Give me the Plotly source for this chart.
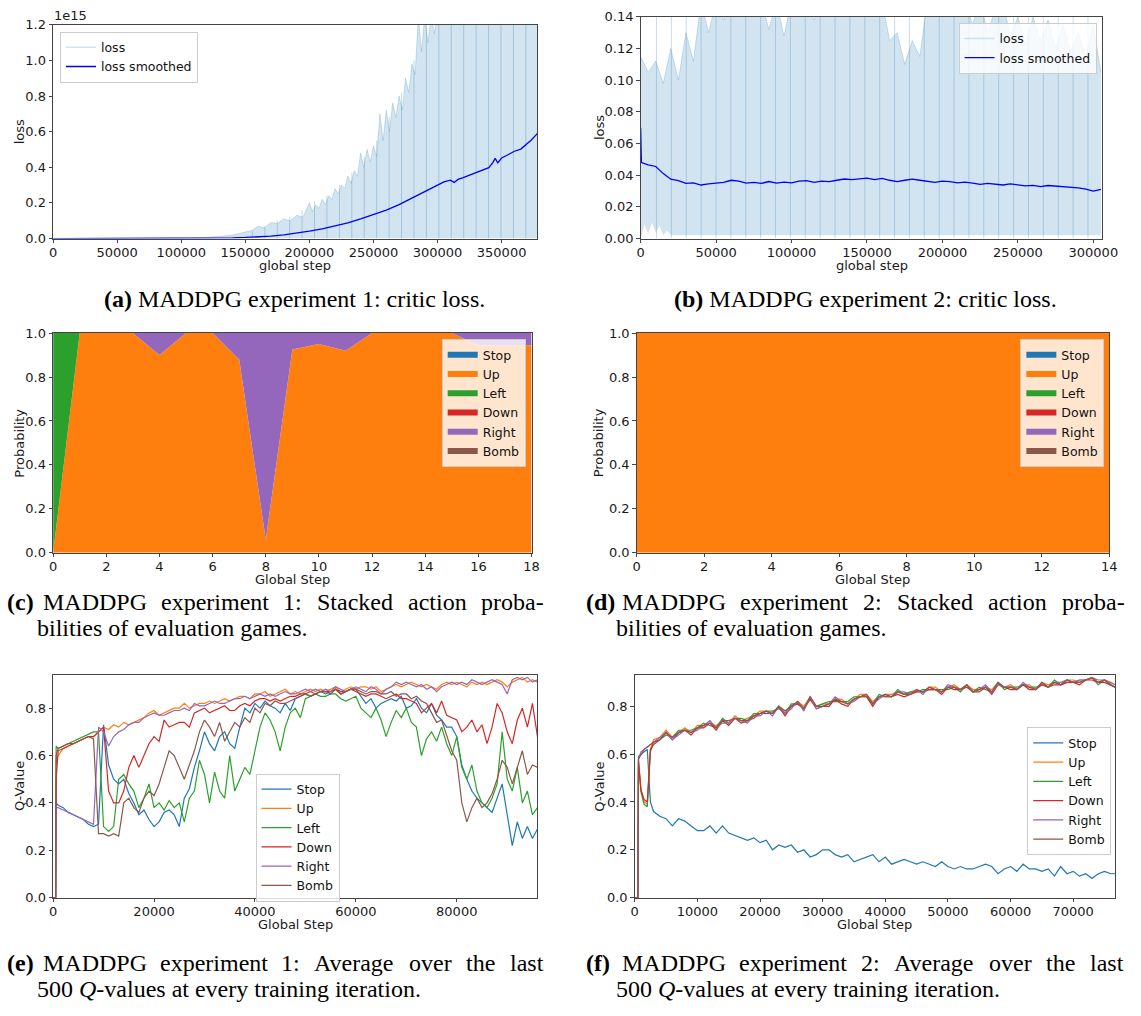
import plotly.graph_objects as go

W, H = 1141, 1016

# ------------------------------------------------------------------ data
# (a) critic loss, experiment 1 (values in units of 1e15)
a_env_steps = [0, 100000, 110000, 120000, 125000, 130000, 135000, 140000, 145000, 150000,
               155000, 160000, 165000, 170000, 175000, 180000, 185000, 190000, 195000, 200000,
               202500, 205000, 207500, 210000, 212500, 215000, 217500, 220000, 222500, 225000,
               227500, 230000, 232500, 235000, 237500, 240000, 242500, 245000, 247500, 250000,
               252500, 255000, 257500, 260000, 262500, 265000, 267500, 270000, 272500, 275000,
               277500, 280000, 282500, 285000, 287500, 290000, 292500, 295000, 297500, 300000,
               378000]
a_env_loss = [0.0, 0.001, 0.003, 0.006, 0.008, 0.012, 0.015, 0.020, 0.028, 0.035,
              0.045, 0.070, 0.060, 0.090, 0.085, 0.110, 0.100, 0.130, 0.120, 0.200,
              0.150, 0.190, 0.170, 0.220, 0.190, 0.240, 0.220, 0.280, 0.250, 0.300,
              0.280, 0.350, 0.310, 0.380, 0.350, 0.480, 0.400, 0.500, 0.430, 0.520,
              0.460, 0.700, 0.550, 0.720, 0.600, 0.760, 0.680, 0.800, 0.720, 0.900,
              0.820, 0.980, 0.920, 1.250, 1.050, 1.250, 1.100, 1.250, 1.150, 1.300,
              1.300]
a_stripe_steps = [155500, 165200, 174900, 184600, 194300, 204000, 213700, 223400, 233100, 242800,
                  252500, 262200, 271900, 281600, 291300, 301000, 310700, 320400, 330100, 339800,
                  349500, 359200, 368900, 378600]
a_stripe_tops = [0.04, 0.07, 0.10, 0.12, 0.16, 0.21, 0.24, 0.30, 0.37, 0.46,
                 0.55, 0.68, 0.82, 1.00, 1.30, 1.30, 1.30, 1.30, 1.30, 1.30,
                 1.30, 1.30, 1.30, 1.30]
a_smooth_steps = [0, 50000, 100000, 120000, 140000, 150000, 160000, 170000, 180000, 190000,
                  200000, 210000, 220000, 230000, 240000, 250000, 260000, 270000, 280000, 290000,
                  300000, 305000, 310000, 313000, 316000, 320000, 325000, 330000, 335000, 340000,
                  343000, 345000, 347000, 350000, 355000, 360000, 365000, 370000, 373000, 376000,
                  378000]
a_smooth_loss = [0.0, 0.0, 0.0005, 0.0015, 0.004, 0.006, 0.009, 0.014, 0.021, 0.030,
                 0.041, 0.054, 0.070, 0.088, 0.110, 0.135, 0.160, 0.190, 0.228, 0.265,
                 0.300, 0.318, 0.328, 0.315, 0.332, 0.342, 0.356, 0.370, 0.388, 0.398,
                 0.425, 0.450, 0.425, 0.452, 0.470, 0.490, 0.502, 0.532, 0.552, 0.575,
                 0.590]

# (b) critic loss, experiment 2
b_env_steps = list(range(0, 305001, 5000))
b_env_upper = [0.115, 0.105, 0.112, 0.098, 0.120, 0.100, 0.130, 0.112, 0.150, 0.130,
               0.150, 0.138, 0.150, 0.145, 0.150, 0.140, 0.150, 0.132, 0.150, 0.128,
               0.150, 0.145, 0.150, 0.138, 0.150, 0.150, 0.150, 0.140, 0.150, 0.150,
               0.150, 0.145, 0.150, 0.125, 0.130, 0.110, 0.125, 0.115, 0.150, 0.140,
               0.150, 0.150, 0.140, 0.150, 0.135, 0.150, 0.130, 0.145, 0.150, 0.128,
               0.140, 0.122, 0.140, 0.125, 0.138, 0.120, 0.135, 0.118, 0.130, 0.115,
               0.135, 0.105]
b_low_steps = [0, 2500, 5000, 7500, 10000, 12500, 15000, 17500, 20000, 25000, 305000]
b_low_vals = [0.0, 0.009, 0.003, 0.010, 0.004, 0.008, 0.002, 0.005, 0.002, 0.002, 0.002]
b_stripe_steps = [10500, 20360, 30220, 40080, 49940, 59800, 69660, 79520, 89380, 99240,
                  109100, 118960, 128820, 138680, 148540, 158400, 168260, 178120, 187980, 197840,
                  207700, 217560, 227420, 237280, 247140, 257000, 266860, 276720, 286580, 296440]
b_smooth_steps = [0, 500] + list(range(5000, 305001, 5000))
b_smooth_loss = [0.0700, 0.0480,
                 0.0465, 0.0455, 0.0410, 0.0375, 0.0365, 0.0348, 0.0352, 0.0338, 0.0345, 0.0352,
                 0.0355, 0.0368, 0.0362, 0.0350, 0.0355, 0.0348, 0.0360, 0.0350, 0.0356, 0.0352,
                 0.0362, 0.0366, 0.0355, 0.0362, 0.0360, 0.0368, 0.0376, 0.0372, 0.0375, 0.0382,
                 0.0372, 0.0380, 0.0368, 0.0360, 0.0368, 0.0375, 0.0368, 0.0362, 0.0355, 0.0362,
                 0.0360, 0.0352, 0.0356, 0.0350, 0.0342, 0.0348, 0.0343, 0.0338, 0.0345, 0.0338,
                 0.0333, 0.0336, 0.0328, 0.0335, 0.0332, 0.0326, 0.0323, 0.0320, 0.0312, 0.0300,
                 0.0310]

# (c) / (d) stacked action probabilities
actions = ["Stop", "Up", "Left", "Down", "Right", "Bomb"]
c_steps = [0, 1, 2, 3, 4, 5, 6, 7, 8, 9, 10, 11, 12, 13, 14, 15, 16, 17, 18]
c_probs = {
    "Stop":  [0, 0, 0, 0, 0, 0, 0, 0, 0, 0, 0, 0, 0, 0, 0, 0, 0, 0, 0],
    "Up":    [0.0, 1.0, 1.0, 1.0, 0.90, 1.0, 1.0, 0.88, 0.06, 0.925, 0.95, 0.92, 1.0, 1.0, 1.0, 1.0, 0.945, 0.945, 0.945],
    "Left":  [1.0, 0, 0, 0, 0, 0, 0, 0, 0, 0, 0, 0, 0, 0, 0, 0, 0, 0, 0],
    "Down":  [0, 0, 0, 0, 0, 0, 0, 0, 0, 0, 0, 0, 0, 0, 0, 0, 0, 0, 0],
    "Right": [0.0, 0.0, 0.0, 0.0, 0.10, 0.0, 0.0, 0.12, 0.94, 0.075, 0.05, 0.08, 0.0, 0.0, 0.0, 0.0, 0.055, 0.055, 0.055],
    "Bomb":  [0, 0, 0, 0, 0, 0, 0, 0, 0, 0, 0, 0, 0, 0, 0, 0, 0, 0, 0],
}
d_steps = [0, 1, 2, 3, 4, 5, 6, 7, 8, 9, 10, 11, 12, 13, 14]
d_probs = {
    "Stop":  [0, 0, 0, 0, 0, 0, 0, 0, 0, 0, 0, 0, 0, 0, 0],
    "Up":    [1.0, 1.0, 1.0, 1.0, 1.0, 1.0, 1.0, 1.0, 1.0, 1.0, 1.0, 1.0, 1.0, 1.0, 1.0],
    "Left":  [0, 0, 0, 0, 0, 0, 0, 0, 0, 0, 0, 0, 0, 0, 0],
    "Down":  [0, 0, 0, 0, 0, 0, 0, 0, 0, 0, 0, 0, 0, 0, 0],
    "Right": [0, 0, 0, 0, 0, 0, 0, 0, 0, 0, 0, 0, 0, 0, 0],
    "Bomb":  [0, 0, 0, 0, 0, 0, 0, 0, 0, 0, 0, 0, 0, 0, 0],
}

# (e) Q-values, experiment 1 (steps 0, 500, 600, 1000 ... 96000)
e_steps = [0, 500, 600] + list(range(1000, 96001, 1000))
e_q = {
    "Stop": [0.0, 0.0, 0.40,
             0.39, 0.38, 0.36, 0.35, 0.34, 0.33, 0.31, 0.30, 0.31, 0.73,
             0.56, 0.50, 0.48, 0.50, 0.44, 0.40, 0.35, 0.37, 0.33, 0.30,
             0.32, 0.36, 0.37, 0.35, 0.30, 0.42, 0.46, 0.55, 0.62, 0.70,
             0.65, 0.62, 0.68, 0.70, 0.65, 0.63, 0.72, 0.80, 0.78, 0.82,
             0.80, 0.83, 0.81, 0.80, 0.78, 0.82, 0.79, 0.84, 0.85, 0.86,
             0.85, 0.86, 0.87, 0.86, 0.87, 0.88, 0.86, 0.87, 0.88, 0.88,
             0.85, 0.82, 0.84, 0.80, 0.82, 0.83, 0.84, 0.83, 0.85, 0.80,
             0.81, 0.84, 0.80, 0.78, 0.82, 0.77, 0.75, 0.72, 0.72, 0.68,
             0.56, 0.50, 0.45, 0.42, 0.40, 0.38, 0.36, 0.42, 0.48, 0.35,
             0.22, 0.32, 0.25, 0.30, 0.25, 0.29],
    "Up": [0.0, 0.0, 0.58,
           0.60, 0.63, 0.64, 0.65, 0.66, 0.67, 0.68, 0.68, 0.70, 0.72,
           0.71, 0.73, 0.72, 0.74, 0.73, 0.74, 0.75, 0.76, 0.78, 0.79,
           0.77, 0.78, 0.79, 0.80, 0.80, 0.82, 0.80, 0.81, 0.82, 0.82,
           0.83, 0.82, 0.83, 0.84, 0.83, 0.84, 0.85, 0.85, 0.84, 0.86,
           0.86, 0.87, 0.85, 0.86, 0.87, 0.88, 0.86, 0.87, 0.86, 0.87,
           0.88, 0.87, 0.88, 0.87, 0.88, 0.89, 0.87, 0.88, 0.89, 0.88,
           0.89, 0.89, 0.88, 0.89, 0.87, 0.88, 0.89, 0.90, 0.89, 0.90,
           0.91, 0.90, 0.89, 0.90, 0.89, 0.88, 0.90, 0.91, 0.90, 0.91,
           0.90, 0.89, 0.91, 0.90, 0.91, 0.90, 0.91, 0.92, 0.91, 0.89,
           0.91, 0.92, 0.93, 0.91, 0.92, 0.91],
    "Left": [0.0, 0.0, 0.64,
             0.63, 0.64, 0.65, 0.66, 0.67, 0.68, 0.69, 0.70, 0.70, 0.30,
             0.28, 0.30, 0.50, 0.52, 0.48, 0.45, 0.38, 0.42, 0.48, 0.38,
             0.40, 0.37, 0.41, 0.38, 0.40, 0.32, 0.42, 0.45, 0.58, 0.52,
             0.40, 0.53, 0.45, 0.42, 0.60, 0.45, 0.50, 0.55, 0.52, 0.62,
             0.72, 0.78, 0.75, 0.70, 0.62, 0.72, 0.78, 0.80, 0.76, 0.84,
             0.85, 0.86, 0.85, 0.85, 0.86, 0.86, 0.84, 0.83, 0.84, 0.85,
             0.80, 0.78, 0.76, 0.80, 0.75, 0.68, 0.74, 0.79, 0.76, 0.80,
             0.74, 0.72, 0.60, 0.67, 0.70, 0.66, 0.72, 0.65, 0.60, 0.68,
             0.55, 0.50, 0.56, 0.45, 0.40, 0.38, 0.42, 0.48, 0.70, 0.50,
             0.45, 0.55, 0.40, 0.45, 0.35, 0.38],
    "Down": [0.0, 0.0, 0.50,
             0.62, 0.63, 0.64, 0.65, 0.66, 0.67, 0.68, 0.68, 0.70, 0.72,
             0.45, 0.40, 0.40, 0.45, 0.55, 0.60, 0.55, 0.60, 0.65, 0.68,
             0.66, 0.75, 0.72, 0.73, 0.74, 0.74, 0.72, 0.78, 0.79, 0.80,
             0.78, 0.79, 0.80, 0.81, 0.79, 0.79, 0.81, 0.82, 0.81, 0.83,
             0.84, 0.84, 0.83, 0.84, 0.83, 0.84, 0.85, 0.85, 0.86, 0.86,
             0.87, 0.86, 0.87, 0.87, 0.87, 0.88, 0.86, 0.87, 0.88, 0.87,
             0.86, 0.85, 0.86, 0.86, 0.85, 0.84, 0.85, 0.86, 0.84, 0.84,
             0.83, 0.82, 0.78, 0.80, 0.82, 0.78, 0.83, 0.77, 0.76, 0.75,
             0.70, 0.72, 0.75, 0.70, 0.73, 0.65, 0.72, 0.82, 0.78, 0.70,
             0.65, 0.75, 0.80, 0.72, 0.82, 0.68],
    "Right": [0.0, 0.0, 0.38,
              0.38, 0.37, 0.36, 0.35, 0.34, 0.33, 0.32, 0.31, 0.72, 0.70,
              0.64, 0.68, 0.70, 0.71, 0.73, 0.74, 0.74, 0.76, 0.77, 0.78,
              0.77, 0.77, 0.78, 0.79, 0.79, 0.80, 0.79, 0.82, 0.81, 0.81,
              0.82, 0.83, 0.82, 0.82, 0.83, 0.84, 0.84, 0.85, 0.84, 0.85,
              0.86, 0.85, 0.86, 0.85, 0.86, 0.87, 0.86, 0.86, 0.87, 0.88,
              0.87, 0.88, 0.87, 0.88, 0.87, 0.89, 0.88, 0.87, 0.88, 0.89,
              0.88, 0.87, 0.89, 0.88, 0.86, 0.88, 0.89, 0.91, 0.90, 0.91,
              0.90, 0.89, 0.90, 0.88, 0.89, 0.87, 0.89, 0.90, 0.91, 0.90,
              0.91, 0.90, 0.92, 0.91, 0.90, 0.91, 0.92, 0.91, 0.90, 0.86,
              0.92, 0.93, 0.92, 0.93, 0.91, 0.92],
    "Bomb": [0.0, 0.0, 0.60,
             0.63, 0.64, 0.65, 0.65, 0.66, 0.67, 0.68, 0.67, 0.27, 0.27,
             0.26, 0.27, 0.26, 0.40, 0.42, 0.38, 0.36, 0.42, 0.45, 0.43,
             0.48, 0.55, 0.62, 0.60, 0.55, 0.50, 0.56, 0.62, 0.70, 0.75,
             0.72, 0.68, 0.74, 0.66, 0.70, 0.74, 0.72, 0.76, 0.74, 0.80,
             0.78, 0.82, 0.81, 0.83, 0.82, 0.82, 0.83, 0.84, 0.85, 0.86,
             0.85, 0.86, 0.87, 0.87, 0.86, 0.88, 0.87, 0.87, 0.88, 0.88,
             0.87, 0.86, 0.87, 0.87, 0.86, 0.86, 0.87, 0.85, 0.86, 0.86,
             0.84, 0.85, 0.83, 0.82, 0.78, 0.74, 0.75, 0.68, 0.62, 0.58,
             0.40, 0.32, 0.38, 0.42, 0.38, 0.40, 0.44, 0.50, 0.58, 0.55,
             0.48, 0.55, 0.62, 0.52, 0.56, 0.55],
}

# (f) Q-values, experiment 2
f_steps = [0, 500, 600, 1000, 1500, 2000, 2500] + list(range(3000, 76001, 1000)) + [76700]
f_q = {
    "Stop": [0.0, 0.0, 0.59, 0.60, 0.61, 0.62, 0.40,
             0.36, 0.34, 0.33, 0.30, 0.33, 0.32, 0.30, 0.28, 0.28, 0.30,
             0.27, 0.30, 0.27, 0.26, 0.25, 0.24, 0.25, 0.23, 0.24, 0.20,
             0.22, 0.21, 0.22, 0.19, 0.20, 0.17, 0.18, 0.20, 0.20, 0.18,
             0.17, 0.18, 0.15, 0.16, 0.17, 0.18, 0.15, 0.17, 0.14, 0.15,
             0.16, 0.15, 0.14, 0.15, 0.14, 0.13, 0.15, 0.13, 0.12, 0.13,
             0.12, 0.12, 0.13, 0.14, 0.13, 0.10, 0.12, 0.13, 0.11, 0.14,
             0.12, 0.12, 0.11, 0.12, 0.09, 0.13, 0.10, 0.11, 0.09, 0.10,
             0.08, 0.10, 0.11, 0.10, 0.10],
    "Up": [0.0, 0.0, 0.57, 0.45, 0.40, 0.39, 0.62,
           0.66, 0.67, 0.70, 0.67, 0.69, 0.71, 0.69, 0.72, 0.72, 0.73,
           0.72, 0.74, 0.73, 0.76, 0.74, 0.75, 0.76, 0.78, 0.78, 0.77,
           0.80, 0.78, 0.80, 0.82, 0.80, 0.84, 0.80, 0.81, 0.81, 0.83,
           0.83, 0.81, 0.83, 0.85, 0.85, 0.82, 0.84, 0.85, 0.85, 0.86,
           0.85, 0.86, 0.87, 0.86, 0.88, 0.88, 0.86, 0.88, 0.89, 0.87,
           0.89, 0.87, 0.87, 0.88, 0.87, 0.90, 0.88, 0.89, 0.87, 0.89,
           0.89, 0.87, 0.90, 0.89, 0.90, 0.89, 0.91, 0.91, 0.90, 0.91,
           0.92, 0.90, 0.91, 0.90, 0.89],
    "Left": [0.0, 0.0, 0.56, 0.44, 0.39, 0.38, 0.61,
             0.65, 0.66, 0.68, 0.67, 0.70, 0.70, 0.70, 0.71, 0.73, 0.72,
             0.71, 0.75, 0.73, 0.75, 0.75, 0.74, 0.77, 0.77, 0.78, 0.78,
             0.79, 0.77, 0.81, 0.81, 0.79, 0.83, 0.80, 0.81, 0.82, 0.82,
             0.82, 0.82, 0.84, 0.84, 0.84, 0.81, 0.85, 0.84, 0.84, 0.87,
             0.85, 0.86, 0.86, 0.87, 0.87, 0.87, 0.87, 0.87, 0.88, 0.86,
             0.89, 0.86, 0.88, 0.87, 0.86, 0.90, 0.87, 0.88, 0.88, 0.89,
             0.88, 0.88, 0.89, 0.88, 0.91, 0.89, 0.90, 0.90, 0.91, 0.91,
             0.92, 0.89, 0.91, 0.89, 0.88],
    "Down": [0.0, 0.0, 0.57, 0.45, 0.41, 0.40, 0.62,
             0.64, 0.66, 0.69, 0.66, 0.69, 0.70, 0.68, 0.71, 0.71, 0.73,
             0.70, 0.74, 0.72, 0.75, 0.73, 0.74, 0.75, 0.77, 0.77, 0.77,
             0.80, 0.76, 0.80, 0.81, 0.79, 0.83, 0.79, 0.80, 0.80, 0.83,
             0.81, 0.80, 0.83, 0.84, 0.84, 0.80, 0.84, 0.84, 0.84, 0.85,
             0.84, 0.85, 0.86, 0.86, 0.87, 0.87, 0.85, 0.88, 0.87, 0.87,
             0.88, 0.86, 0.86, 0.88, 0.85, 0.89, 0.88, 0.87, 0.87, 0.89,
             0.87, 0.87, 0.89, 0.88, 0.89, 0.89, 0.90, 0.90, 0.89, 0.91,
             0.91, 0.90, 0.90, 0.89, 0.88],
    "Right": [0.0, 0.0, 0.58, 0.61, 0.62, 0.63, 0.64,
              0.65, 0.67, 0.69, 0.66, 0.68, 0.70, 0.69, 0.70, 0.72, 0.74,
              0.71, 0.73, 0.73, 0.75, 0.74, 0.73, 0.76, 0.76, 0.78, 0.76,
              0.80, 0.77, 0.79, 0.82, 0.78, 0.84, 0.79, 0.80, 0.81, 0.84,
              0.82, 0.81, 0.82, 0.84, 0.85, 0.81, 0.83, 0.85, 0.84, 0.86,
              0.86, 0.85, 0.87, 0.85, 0.88, 0.87, 0.86, 0.89, 0.88, 0.87,
              0.89, 0.86, 0.87, 0.89, 0.86, 0.89, 0.88, 0.88, 0.87, 0.90,
              0.88, 0.87, 0.90, 0.88, 0.90, 0.90, 0.91, 0.90, 0.91, 0.91,
              0.92, 0.91, 0.91, 0.90, 0.89],
    "Bomb": [0.0, 0.0, 0.58, 0.60, 0.62, 0.63, 0.64,
             0.65, 0.66, 0.69, 0.67, 0.69, 0.70, 0.69, 0.71, 0.72, 0.73,
             0.71, 0.74, 0.74, 0.75, 0.74, 0.74, 0.76, 0.77, 0.78, 0.77,
             0.80, 0.78, 0.80, 0.82, 0.79, 0.84, 0.80, 0.80, 0.81, 0.83,
             0.82, 0.81, 0.83, 0.84, 0.85, 0.81, 0.84, 0.85, 0.84, 0.86,
             0.85, 0.85, 0.87, 0.86, 0.88, 0.87, 0.86, 0.88, 0.88, 0.87,
             0.89, 0.86, 0.87, 0.88, 0.86, 0.90, 0.88, 0.88, 0.87, 0.89,
             0.88, 0.87, 0.90, 0.88, 0.90, 0.89, 0.91, 0.90, 0.90, 0.91,
             0.92, 0.90, 0.91, 0.89, 0.88],
}

# captions
cap_a = "<b>(a)</b> MADDPG experiment 1: critic loss."
cap_b = "<b>(b)</b> MADDPG experiment 2: critic loss."
cap_c_words = ["MADDPG", "experiment", "1:", "Stacked", "action", "proba-"]
cap_d_words = ["MADDPG", "experiment", "2:", "Stacked", "action", "proba-"]
cap_cd_line2 = "bilities of evaluation games."
cap_e_words = ["MADDPG", "experiment", "1:", "Average", "over", "the", "last"]
cap_f_words = ["MADDPG", "experiment", "2:", "Average", "over", "the", "last"]
cap_ef_line2 = "500 <i>Q</i>-values at every training iteration."

# ------------------------------------------------------------------ style
COLORS = {"Stop": "#1f77b4", "Up": "#ff7f0e", "Left": "#2ca02c",
          "Down": "#d62728", "Right": "#9467bd", "Bomb": "#8c564b"}
SANS = "DejaVu Sans"
SERIF = "Liberation Serif"
FS = 13
LFS = 12.5
CAP = 24

# panel boxes in pixels: (left, right, top, bottom)
boxes = {
    1: (50, 543, 18, 235),
    2: (648, 1118, 10, 235),
    3: (50, 537, 331, 554),
    4: (644, 1125, 331, 554),
    5: (50, 543, 678, 904),
    6: (642, 1131, 678, 904),
}

fig = go.Figure()


def ax(n):
    return ("x" if n == 1 else f"x{n}"), ("y" if n == 1 else f"y{n}")


def leg(n):
    return "legend" if n == 1 else f"legend{n}"


# ---- (a)
xa, ya = ax(1)
fig.add_trace(go.Scatter(x=a_env_steps, y=a_env_loss, mode="lines", xaxis=xa, yaxis=ya,
                         line=dict(color="rgba(31,119,180,0.25)", width=0.8),
                         fill="tozeroy", fillcolor="rgba(31,119,180,0.2)",
                         showlegend=False, hoverinfo="skip"))
sx, sy = [], []
for s, t in zip(a_stripe_steps, a_stripe_tops):
    sx += [s, s, None]
    sy += [0, t, None]
fig.add_trace(go.Scatter(x=sx, y=sy, mode="lines", xaxis=xa, yaxis=ya,
                         line=dict(color="rgba(31,119,180,0.28)", width=1),
                         showlegend=False, hoverinfo="skip"))
fig.add_trace(go.Scatter(x=[None], y=[None], mode="lines", xaxis=xa, yaxis=ya, name="loss",
                         line=dict(color="rgba(31,119,180,0.2)", width=1.5), legend=leg(1)))
fig.add_trace(go.Scatter(x=a_smooth_steps, y=a_smooth_loss, mode="lines", xaxis=xa, yaxis=ya,
                         name="loss smoothed", line=dict(color="#0000ff", width=1.3),
                         legend=leg(1)))

# ---- (b)
xb, yb = ax(2)
fig.add_trace(go.Scatter(x=b_low_steps, y=b_low_vals, mode="lines", xaxis=xb, yaxis=yb,
                         line=dict(color="rgba(0,0,0,0)", width=0), showlegend=False,
                         hoverinfo="skip"))
fig.add_trace(go.Scatter(x=b_env_steps, y=b_env_upper, mode="lines", xaxis=xb, yaxis=yb,
                         line=dict(color="rgba(31,119,180,0.25)", width=0.8),
                         fill="tonexty", fillcolor="rgba(31,119,180,0.2)",
                         showlegend=False, hoverinfo="skip"))
sx, sy = [], []
for s in b_stripe_steps:
    sx += [s, s, None]
    sy += [0, 0.15, None]
fig.add_trace(go.Scatter(x=sx, y=sy, mode="lines", xaxis=xb, yaxis=yb,
                         line=dict(color="rgba(31,119,180,0.25)", width=1),
                         showlegend=False, hoverinfo="skip"))
fig.add_trace(go.Scatter(x=[None], y=[None], mode="lines", xaxis=xb, yaxis=yb, name="loss",
                         line=dict(color="rgba(31,119,180,0.2)", width=1.5), legend=leg(2)))
fig.add_trace(go.Scatter(x=b_smooth_steps, y=b_smooth_loss, mode="lines", xaxis=xb, yaxis=yb,
                         name="loss smoothed", line=dict(color="#0000ff", width=1.3),
                         legend=leg(2)))

# ---- (c), (d)
for n, steps, probs in ((3, c_steps, c_probs), (4, d_steps, d_probs)):
    xs, ys = ax(n)
    for a in actions:
        fig.add_trace(go.Scatter(x=steps, y=probs[a], mode="none", xaxis=xs, yaxis=ys,
                                 stackgroup=f"s{n}", fillcolor=COLORS[a], name=a,
                                 legend=leg(n)))

# ---- (e), (f)
for n, steps, q in ((5, e_steps, e_q), (6, f_steps, f_q)):
    xs, ys = ax(n)
    for a in actions:
        fig.add_trace(go.Scatter(x=steps, y=q[a], mode="lines", xaxis=xs, yaxis=ys,
                                 line=dict(color=COLORS[a], width=1.2), name=a,
                                 legend=leg(n)))

# ------------------------------------------------------------------ axes
axis_base = dict(showline=True, mirror=True, linecolor="#444444", linewidth=1,
                 ticks="outside", ticklen=3.5, tickwidth=1, tickcolor="#444444",
                 showgrid=False, zeroline=False,
                 tickfont=dict(family=SANS, size=FS, color="#1a1a1a"))

spec = {
    1: dict(xr=[0, 378000], xt=list(range(0, 350001, 50000)), xf="d", xtitle="global step",
            yr=[0, 1.2], yt=[0, 0.2, 0.4, 0.6, 0.8, 1.0, 1.2], yf=".1f", ytitle="loss"),
    2: dict(xr=[0, 306000], xt=list(range(0, 300001, 50000)), xf="d", xtitle="global step",
            yr=[0, 0.14], yt=[0, 0.02, 0.04, 0.06, 0.08, 0.10, 0.12, 0.14], yf=".2f",
            ytitle="loss"),
    3: dict(xr=[0, 18], xt=list(range(0, 19, 2)), xf="d", xtitle="Global Step",
            yr=[0, 1.0], yt=[0, 0.2, 0.4, 0.6, 0.8, 1.0], yf=".1f", ytitle="Probability"),
    4: dict(xr=[0, 14], xt=list(range(0, 15, 2)), xf="d", xtitle="Global Step",
            yr=[0, 1.0], yt=[0, 0.2, 0.4, 0.6, 0.8, 1.0], yf=".1f", ytitle="Probability"),
    5: dict(xr=[0, 96000], xt=list(range(0, 80001, 20000)), xf="d", xtitle="Global Step",
            yr=[0, 0.94], yt=[0, 0.2, 0.4, 0.6, 0.8], yf=".1f", ytitle="Q-Value"),
    6: dict(xr=[0, 76700], xt=list(range(0, 70001, 10000)), xf="d", xtitle="Global Step",
            yr=[0, 0.931], yt=[0, 0.2, 0.4, 0.6, 0.8], yf=".1f", ytitle="Q-Value"),
}
ytitle_x = {1: 16, 2: 606, 3: 16, 4: 606, 5: 16, 6: 606}

layout = {}
for n, (l, r, t, b) in boxes.items():
    s = spec[n]
    xname = "xaxis" if n == 1 else f"xaxis{n}"
    yname = "yaxis" if n == 1 else f"yaxis{n}"
    xa_, ya_ = ax(n)
    layout[xname] = dict(axis_base, domain=[l / W, r / W], anchor=ya_, range=s["xr"],
                         tickvals=s["xt"], tickformat=s["xf"], ticklabelstandoff=-2)
    layout[yname] = dict(axis_base, domain=[1 - b / H, 1 - t / H], anchor=xa_, range=s["yr"],
                         tickvals=s["yt"], tickformat=s["yf"])

legend_base = dict(bgcolor="rgba(255,255,255,0.8)", bordercolor="#cccccc", borderwidth=1,
                   font=dict(family=SANS, size=LFS, color="#111111"), traceorder="normal",
                   itemwidth=30, tracegroupgap=0, xref="paper", yref="paper")
legend_pos = {
    1: (57, 25, "left"),
    2: (1112, 16, "right"),
    3: (531, 337, "right"),
    4: (1120, 337, "right"),
    5: (256, 778, "left"),
    6: (1127, 731, "right"),
}
for n, (lx, ly, anc) in legend_pos.items():
    layout[leg(n)] = dict(legend_base, x=lx / W, y=1 - ly / H, xanchor=anc, yanchor="top")

fig.update_layout(width=W, height=H, margin=dict(l=0, r=0, t=0, b=0),
                  paper_bgcolor="white", plot_bgcolor="white", showlegend=True, **layout)

# axis titles
for n, (l, r, t, b) in boxes.items():
    fig.add_annotation(x=(l + r) / 2 / W, y=1 - (b + 27) / H, xref="paper", yref="paper",
                       text=spec[n]["xtitle"], showarrow=False, xanchor="center",
                       yanchor="middle", borderpad=0,
                       font=dict(family=SANS, size=FS, color="#1a1a1a"))
    fig.add_annotation(x=ytitle_x[n] / W, y=1 - (t + b) / 2 / H, xref="paper", yref="paper",
                       text=spec[n]["ytitle"], showarrow=False, textangle=-90,
                       xanchor="center", yanchor="middle", borderpad=0,
                       font=dict(family=SANS, size=FS, color="#1a1a1a"))

# "1e15" offset label of panel (a)
fig.add_annotation(x=boxes[1][0] / W, y=1 - (boxes[1][2] - 1) / H, xref="paper", yref="paper",
                   text="1e15", showarrow=False, xanchor="left", yanchor="bottom",
                   font=dict(family=SANS, size=FS, color="#1a1a1a"), borderpad=0)

# ------------------------------------------------------------------ captions
TW = {" ": 250, "(": 333, ")": 333, "-": 333, ".": 250, ":": 278, ",": 250,
      "A": 722, "B": 667, "C": 667, "D": 722, "E": 611, "F": 556, "G": 722, "H": 722,
      "I": 333, "J": 389, "K": 722, "L": 611, "M": 889, "N": 722, "O": 722, "P": 556,
      "Q": 722, "R": 667, "S": 556, "T": 611, "U": 722, "V": 722, "W": 944, "X": 722,
      "Y": 722, "Z": 611, "a": 444, "b": 500, "c": 444, "d": 500, "e": 444, "f": 333,
      "g": 500, "h": 500, "i": 278, "j": 278, "k": 500, "l": 278, "m": 778, "n": 500,
      "o": 500, "p": 500, "q": 500, "r": 333, "s": 389, "t": 278, "u": 500, "v": 500,
      "w": 722, "x": 500, "y": 500, "z": 444}


def tw(s):
    return sum(TW.get(ch, 500) for ch in s) / 1000.0 * CAP


def add_text(x, y, text, xanchor="left"):
    fig.add_annotation(x=x / W, y=1 - y / H, xref="paper", yref="paper", text=text,
                       showarrow=False, xanchor=xanchor, yanchor="middle", borderpad=0,
                       font=dict(family=SERIF, size=CAP, color="black"))


def justified(label, words, x0, indent, x1, y):
    add_text(x0, y, f"<b>{label}</b>")
    natural = sum(tw(w) for w in words)
    gap = (x1 - (x0 + indent) - natural) / (len(words) - 1)
    x = x0 + indent
    for w in words:
        add_text(x, y, w)
        x += tw(w) + gap


add_text(296, 296, cap_a, "center")
add_text(877, 296, cap_b, "center")
IND = 37
IND2 = 31
justified("(c)", cap_c_words, 2, IND, 547, 604)
add_text(2 + IND2, 630, cap_cd_line2)
justified("(d)", cap_d_words, 591, IND, 1138, 604)
add_text(591 + IND2, 630, cap_cd_line2)
justified("(e)", cap_e_words, 2, IND, 547, 970)
add_text(2 + IND2, 997, cap_ef_line2)
justified("(f)", cap_f_words, 591, IND, 1138, 970)
add_text(591 + IND2, 997, cap_ef_line2)

fig.write_html("out.html")
